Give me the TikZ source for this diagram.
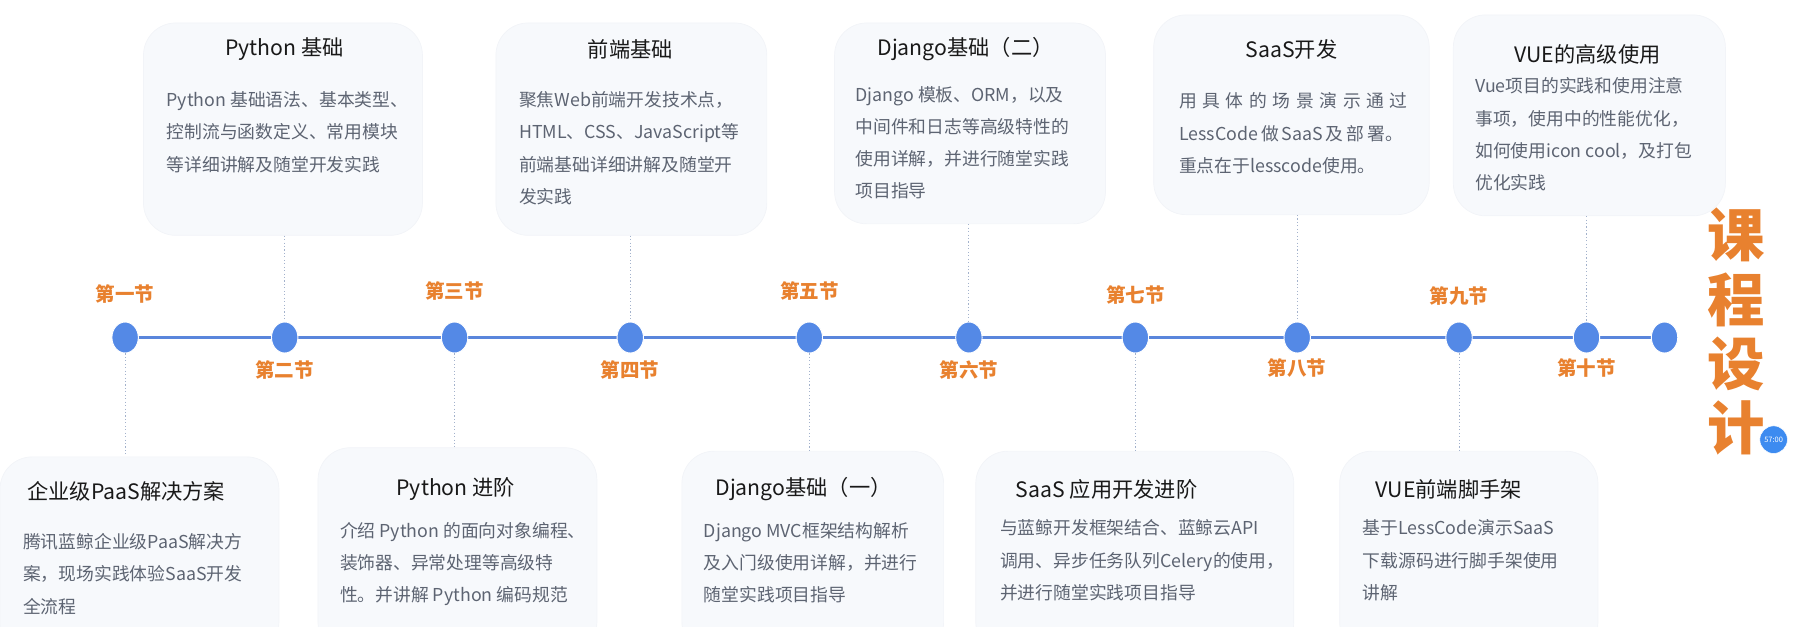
\documentclass[tikz,border=0pt]{standalone}
\usepackage{fontspec}
\setmainfont{Noto Sans CJK SC}
\usetikzlibrary{shapes.geometric,positioning,backgrounds}
\definecolor{lineblue}{HTML}{5A86DC}
\definecolor{dotblue}{HTML}{5489E6}
\definecolor{secorange}{HTML}{E8812F}
\definecolor{boxbg}{HTML}{F7F9FC}
\definecolor{boxedge}{HTML}{F2F4F8}
\definecolor{bodygray}{HTML}{5D6472}
\definecolor{linkgray}{HTML}{A3B2CC}
\definecolor{badgeblue}{HTML}{3D8BF0}
\begin{document}
\begin{tikzpicture}[x=1pt,y=-1pt,
		dot/.style={ellipse,fill=dotblue,draw=white,line width=0.8pt,minimum width=23pt,minimum height=27pt,inner sep=0pt},
		tline/.style={draw=lineblue,line width=2.5pt},
		link/.style={draw=linkgray,dotted,line width=1pt},
		cardbox/.style={rectangle,rounded corners=28pt,fill=boxbg,draw=boxedge,line width=0.6pt,inner sep=0pt},
		cardtitle/.style={font=\fontsize{18.5}{20}\selectfont,text=black!90,inner sep=0pt},
		cardtext/.style={anchor=base west,align=left,font=\fontsize{15.5}{28}\selectfont,text=bodygray,inner sep=0pt},
		seclabel/.style={font=\fontsize{17}{17}\selectfont\bfseries,text=secorange,inner sep=0pt},
		bigtitle/.style={align=center,font=\fontsize{50}{56}\selectfont\bfseries,text=secorange,inner sep=0pt}]
		\useasboundingbox (0,0) rectangle (1568,546);
		\clip (0,0) rectangle (1568,546);
		% timeline dots
		\foreach \x [count=\i] in {109,248,396,549,705,844,989,1130,1271,1382,1450}
			\node [dot] (d\i) at (\x,294) {};
		\begin{scope}[on background layer]
			\draw [tline] (d1) -- (d11);
		\end{scope}
		% section labels
		\node [seclabel,above=16pt of d1] (s1) {第一节};
		\node [seclabel,below=6pt of d2] (s2) {第二节};
		\node [seclabel,above=18pt of d3] (s3) {第三节};
		\node [seclabel,below=6pt of d4] (s4) {第四节};
		\node [seclabel,above=18pt of d5] (s5) {第五节};
		\node [seclabel,below=6pt of d6] (s6) {第六节};
		\node [seclabel,above=15pt of d7] (s7) {第七节};
		\node [seclabel,below=4pt of d8] (s8) {第八节};
		\node [seclabel,above=14pt of d9] (s9) {第九节};
		\node [seclabel,below=4pt of d10] (s10) {第十节};
		% upper cards (text nodes sit on the baseline of their last line)
		\node [cardbox,minimum width=243pt,minimum height=185pt] (bA) at (246.5,112.5) {};
		\node [cardtitle] (tA) at (248,43) {Python 基础};
		\node [cardtext] (xA) at (145,149) {Python 基础语法、基本类型、\\控制流与函数定义、常用模块\\等详细讲解及随堂开发实践};
		\node [cardbox,minimum width=236pt,minimum height=185pt] (bB) at (550,112.5) {};
		\node [cardtitle] (tB) at (549,43) {前端基础};
		\node [cardtext] (xB) at (452,177) {聚焦Web前端开发技术点，\\HTML、CSS、JavaScript等\\前端基础详细讲解及随堂开\\发实践};
		\node [cardbox,minimum width=236pt,minimum height=175pt] (bC) at (845,107.5) {};
		\node [cardtitle] (tC) at (841,43) {Django基础（二）};
		\node [cardtext] (xC) at (745,172) {Django 模板、ORM，以及\\中间件和日志等高级特性的\\使用详解，并进行随堂实践\\项目指导};
		\node [cardbox,minimum width=240pt,minimum height=174pt] (bD) at (1125,100) {};
		\node [cardtitle] (tD) at (1125,43) {SaaS开发};
		\node [cardtext] (xD) at (1027,150) {\makebox[199pt][s]{用 具 体 的 场 景 演 示 通 过}\\\makebox[195pt][s]{LessCode 做 SaaS 及 部 署。}\\重点在于lesscode使用。};
		\node [cardbox,minimum width=237pt,minimum height=175pt] (bE) at (1384.5,100.5) {};
		\node [cardtitle] (tE) at (1383,47) {VUE的高级使用};
		\node [cardtext] (xE) at (1285,165) {Vue项目的实践和使用注意\\事项，使用中的性能优化，\\如何使用icon cool，及打包\\优化实践};
		% lower cards
		\node [cardbox,minimum width=243pt,minimum height=172pt] (bF) at (121.5,484) {};
		\node [cardtitle] (tF) at (110,428) {企业级PaaS解决方案};
		\node [cardtext] (xF) at (20,534) {腾讯蓝鲸企业级PaaS解决方\\案，现场实践体验SaaS开发\\全流程};
		\node [cardbox,minimum width=243pt,minimum height=180pt] (bG) at (398.5,480) {};
		\node [cardtitle] (tG) at (397,426) {Python 进阶};
		\node [cardtext] (xG) at (296,524) {介绍 Python 的面向对象编程、\\装饰器、异常处理等高级特\\性。并讲解 Python 编码规范};
		\node [cardbox,minimum width=228pt,minimum height=177pt] (bH) at (708,481.5) {};
		\node [cardtitle] (tH) at (700,426) {Django基础（一）};
		\node [cardtext] (xH) at (613,524) {Django MVC框架结构解析\\及入门级使用详解，并进行\\随堂实践项目指导};
		\node [cardbox,minimum width=277pt,minimum height=177pt] (bI) at (988.5,481.5) {};
		\node [cardtitle] (tI) at (964,426) {SaaS 应用开发进阶};
		\node [cardtext] (xI) at (871,522) {与蓝鲸开发框架结合、蓝鲸云API\\调用、异步任务队列Celery的使用，\\并进行随堂实践项目指导};
		\node [cardbox,minimum width=225pt,minimum height=177pt] (bJ) at (1279.5,481.5) {};
		\node [cardtitle] (tJ) at (1262,426) {VUE前端脚手架};
		\node [cardtext] (xJ) at (1187,522) {基于LessCode演示SaaS\\下载源码进行脚手架使用\\讲解};
		% dotted links
		\draw [link] (bA.south -| d2) -- (d2.north);
		\draw [link] (bB.south -| d4) -- (d4.north);
		\draw [link] (bC.south -| d6) -- (d6.north);
		\draw [link] (bD.south -| d8) -- (d8.north);
		\draw [link] (bE.south -| d10) -- (d10.north);
		\draw [link] (d1.south) -- (d1 |- bF.north);
		\draw [link] (d3.south) -- (d3 |- bG.north);
		\draw [link] (d5.south) -- (d5 |- bH.north);
		\draw [link] (d7.south) -- (d7 |- bI.north);
		\draw [link] (d9.south) -- (d9 |- bJ.north);
		% side title
		\node [bigtitle] (kc) at (1512,289) {课\\程\\设\\计};
		\node [circle,fill=badgeblue,draw=white,minimum size=24pt,inner sep=0pt,text=white,font=\fontsize{6.5}{7}\selectfont] (tm) at (1545,383) {57:00};
	\end{tikzpicture}
\end{document}
